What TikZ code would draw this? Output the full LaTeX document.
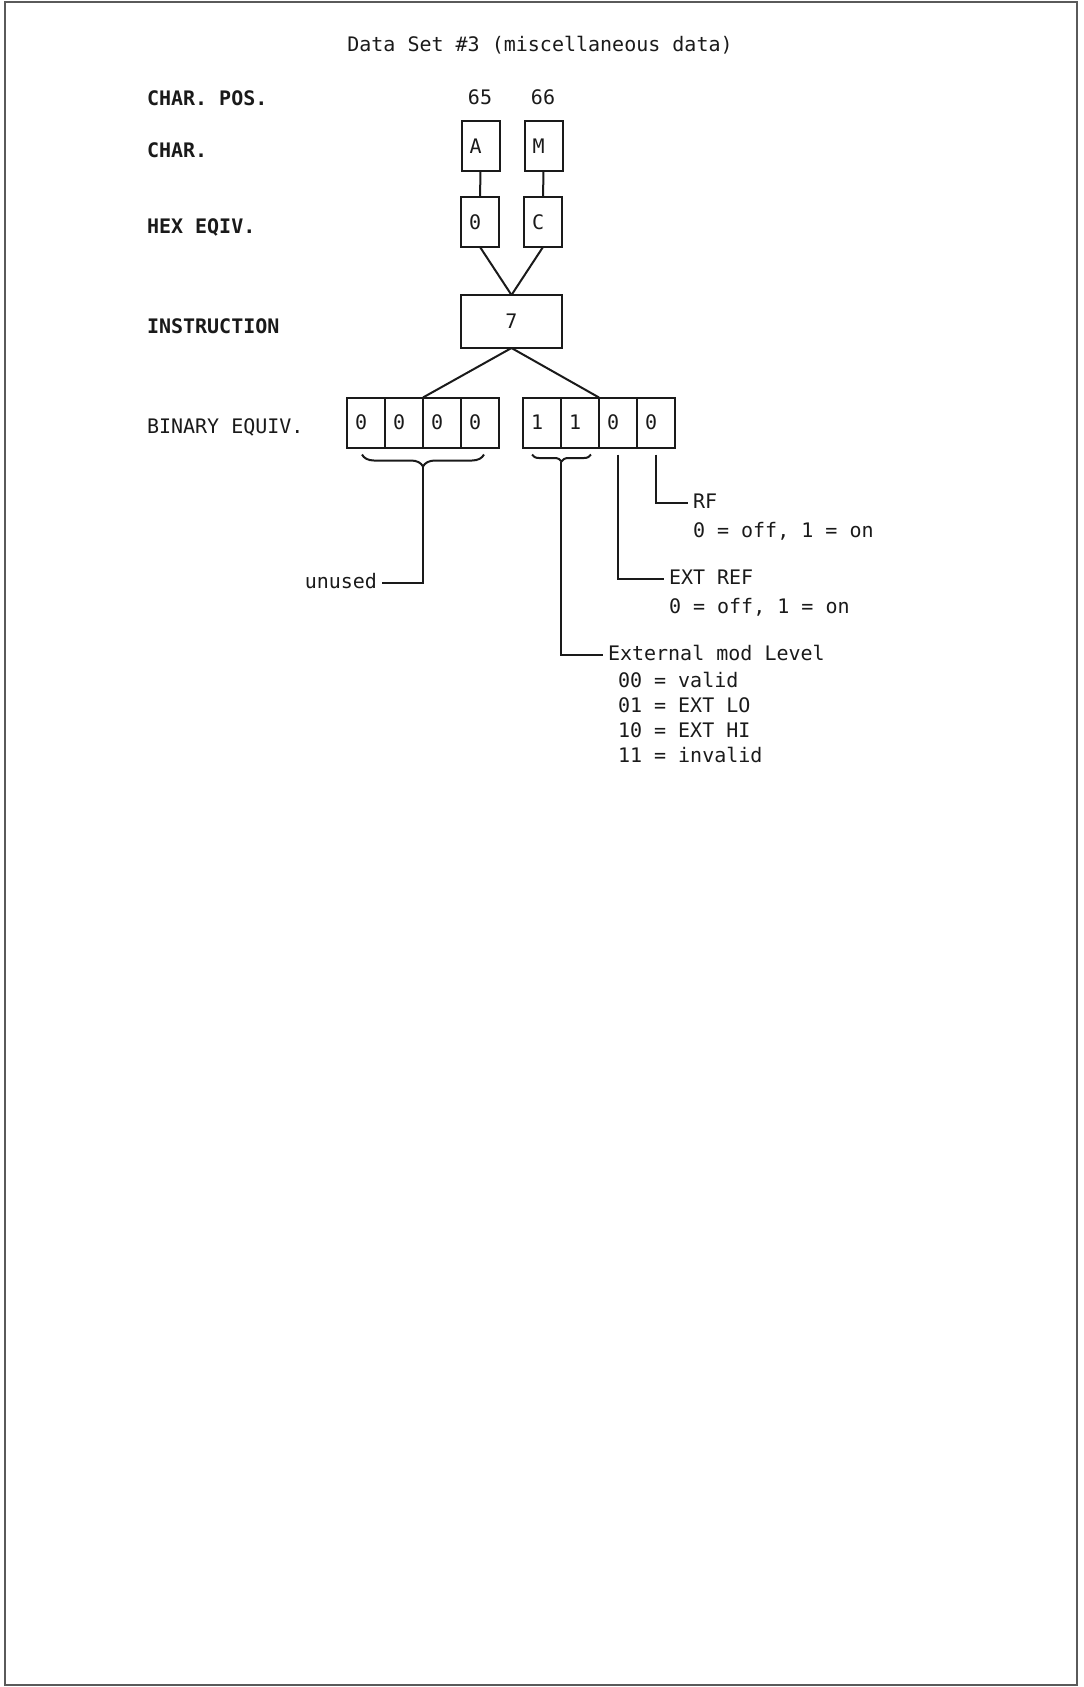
\documentclass[tikz,border=0pt]{standalone}
\usepackage{fontspec}
\setmonofont{DejaVu Sans Mono}
\usetikzlibrary{positioning, decorations.pathreplacing}
\definecolor{ink}{HTML}{1A1A1A}
\definecolor{frame}{HTML}{5A5A5A}

\begin{document}
\begin{tikzpicture}[x=0.5pt, y=-0.5pt, line width=1pt,
  every node/.style={font=\ttfamily\fontsize{10}{12.5}\selectfont, text=ink},
  lbl/.style={anchor=west, inner sep=0pt,
              font=\ttfamily\bfseries\fontsize{10}{12.5}\selectfont},
  cell/.style={draw=ink, outer sep=0pt, minimum height=25pt,
               inner xsep=4pt, text width=11pt, align=left},
  instrbox/.style={draw=ink, outer sep=0pt, minimum width=50.5pt,
                   minimum height=26.5pt},
  note/.style={inner sep=2pt, text height=7.5pt, text depth=2pt},
  brc/.style={decorate, decoration={brace, mirror, amplitude=#1}}]

% Background
\useasboundingbox (0,0) rectangle (1083,1687);
\draw[frame, line width=1.2pt] (5,2) rectangle (1077,1685);

\node (title) at (540,45) {Data Set \#3 (miscellaneous data)};

% Row labels
\node[lbl] (charpos) at (146,98) {CHAR. POS.};
\node[lbl] (charrow) at (146,150) {CHAR.};
\node[lbl] (hexrow) at (146,227) {HEX EQIV.};
\node[lbl] (instrow) at (146,326) {INSTRUCTION};
\node[lbl, font=\ttfamily\fontsize{10}{12.5}\selectfont] (binrow) at (146,427) {BINARY EQUIV.};

\node (pos65) at (480,97) {65};
\node (pos66) at (543,97) {66};

\node[cell] (chA) at (480.5,146) {A};
\node[cell] (chM) at (543.5,146) {M};
\node[cell] (hexO) at (480,222) {0};
\node[cell] (hexC) at (543,222) {C};
\node[instrbox] (instr) at (511.5,321.5) {7};

% Binary digits
\node[cell] (b1) at (366,422.5) {0};
\node[cell, right=0pt of b1] (b2) {0};
\node[cell, right=0pt of b2] (b3) {0};
\node[cell, right=0pt of b3] (b4) {0};
\node[cell] (b5) at (542,422.5) {1};
\node[cell, right=0pt of b5] (b6) {1};
\node[cell, right=0pt of b6] (b7) {0};
\node[cell, right=0pt of b7] (b8) {0};

\draw[ink] (chA) -- (hexO);
\draw[ink] (chM) -- (hexC);
\draw[ink] (hexO.south) -- (instr.north);
\draw[ink] (hexC.south) -- (instr.north);
\draw[ink] (instr.south) -- (b2.north east);
\draw[ink] (instr.south) -- (b6.north east);

% Braces
\draw[ink, brc=6pt] ([xshift=7.5pt, yshift=-3.5pt]b1.south west) -- ([xshift=-7.5pt, yshift=-3.5pt]b4.south east);
\draw[ink, brc=3.5pt] ([xshift=4.5pt, yshift=-3.5pt]b5.south west) -- ([xshift=-4pt, yshift=-3.5pt]b6.south east);
\coordinate (ltip) at ([yshift=-9.5pt]b2.south east);
\coordinate (rtip) at ([yshift=-7pt]b5.south east);

% Field notes
\node[note, anchor=east] (unused) at (382,583) {unused};
\node[note, anchor=west] (rf) at (688,503) {RF};
\node[note, below right=0pt and 0pt of rf.south west] (rfval) {0 = off, 1 = on};
\node[note, anchor=west] (extref) at (664,579) {EXT REF};
\node[note, below right=0pt and 0pt of extref.south west] (extrefval) {0 = off, 1 = on};
\node[note, anchor=west] (extmod) at (603,655) {External mod Level};
\node[inner sep=2pt, align=left, below right=-1pt and 5pt of extmod.south west] (extlist)
  {00 = valid\\01 = EXT LO\\10 = EXT HI\\11 = invalid};

\draw[ink] (ltip) |- (unused);
\draw[ink, shorten <=3.5pt] (b8.south) |- (rf);
\draw[ink, shorten <=3.5pt] (b7.south) |- (extref);
\draw[ink] (rtip) |- (extmod);

\end{tikzpicture}
\end{document}
